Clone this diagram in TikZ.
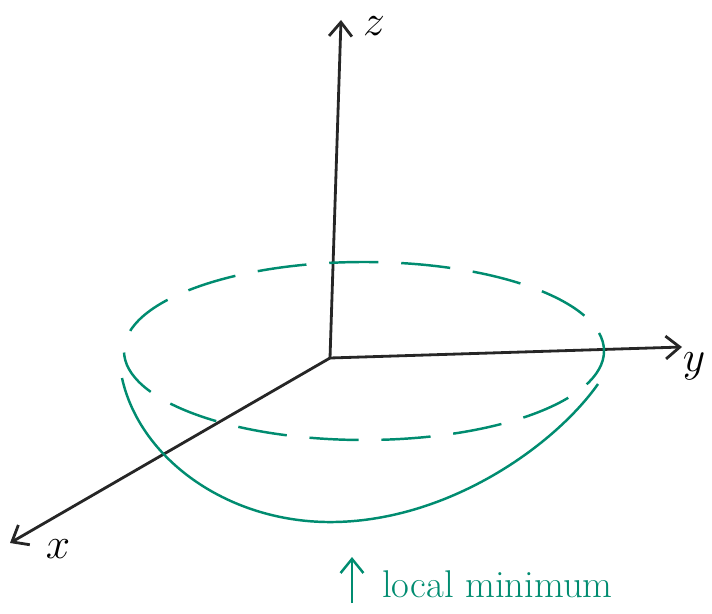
\documentclass[tikz,border=0pt]{standalone}
\usepackage{amsmath,amssymb}
\usetikzlibrary{arrows.meta,positioning,calc}
\definecolor{bowlgreen}{RGB}{0,140,112}

\begin{document}
\begin{tikzpicture}[x=0.02cm, y=-0.02cm, >={Straight Barb[length=8pt,width=13pt]},
	  axis/.style={line width=1.6pt, black!85, ->},
	  bowl/.style={line width=1.4pt, bowlgreen},
	  axlabel/.style={font=\fontsize{28}{30}\selectfont}]
	  \useasboundingbox (0,0) rectangle (712,614);
	  % axes
	  \coordinate (O) at (330,358);
	  \coordinate (ztip) at (341,20); \coordinate (ytip) at (682,347); \coordinate (xtip) at (10,543);
	  \draw[axis] (O) -- (ztip); \draw[axis] (O) -- (ytip); \draw[axis] (O) -- (xtip);
	  \node[axlabel] (zlab) at (374,26) {$z$};
	  \node[axlabel] (ylab) at (694,366) {$y$};
	  \node[axlabel] (xlab) at (58,549) {$x$};
	  % level set and bowl
	  \coordinate (ctr) at (364,351);
	  \draw[bowl, dash pattern=on 28pt off 13pt, dash phase=6pt] (ctr) ellipse [x radius=240, y radius=89];
	  \coordinate (bowlL) at (122,378); \coordinate (bowlB) at (335,522); \coordinate (bowlR) at (598,384);
	  \draw[bowl] (bowlL) .. controls (140,460) and (230,524) .. (bowlB) .. controls (450,520) and (555,445) .. (bowlR);
	  % label
	  \node[bowlgreen, font=\fontsize{22}{25}\selectfont, anchor=west] (minlab) at (376,584) {local minimum};
	  \coordinate (arrfoot) at (352,603);
	  \draw[bowl, ->] (arrfoot) -- ++(0,-46);
	\end{tikzpicture}
\end{document}
